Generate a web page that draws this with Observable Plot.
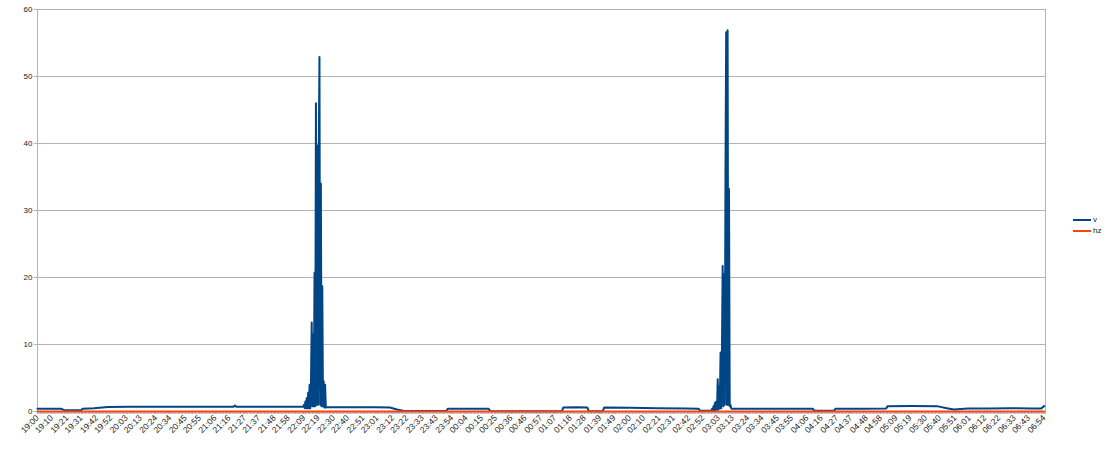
<!DOCTYPE html>
<html>
<head>
<meta charset="utf-8">
<script src="https://cdn.jsdelivr.net/npm/d3@7"></script>
<script src="https://cdn.jsdelivr.net/npm/@observablehq/plot@0.6"></script>
<style>
  html, body { margin: 0; padding: 0; background: #fff; }
  #wrap { position: relative; width: 1110px; height: 450px; font-family: "Liberation Sans", Arial, sans-serif; }
  .lg-line { position: absolute; width: 18px; height: 2px; }
  .lg-text { position: absolute; font-size: 8px; color: #222; line-height: 10px; }
</style>
</head>
<body>
<div id="wrap"></div>
<script>
// ---- data ----
const tickLabels = ["19:00","19:10","19:21","19:31","19:42","19:52","20:03","20:13","20:24","20:34","20:45","20:55",
  "21:06","21:16","21:27","21:37","21:48","21:58","22:09","22:19","22:30","22:40","22:51","23:01","23:12","23:22",
  "23:33","23:43","23:54","00:04","00:15","00:25","00:36","00:46","00:57","01:07","01:18","01:28","01:39","01:49",
  "02:00","02:10","02:21","02:31","02:42","02:52","03:03","03:13","03:24","03:34","03:45","03:55","04:06","04:16",
  "04:27","04:37","04:48","04:58","05:09","05:19","05:30","05:40","05:51","06:01","06:12","06:22","06:33","06:43","06:54"];

const yTicks = [0, 10, 20, 30, 40, 50, 60];

const baseTimes = ["19:00","19:06","19:12","19:17","19:19","19:25","19:31","19:32","19:40","19:50","20:05","20:30",
  "21:00","21:19","21:20","21:21","21:45","22:05","22:08",
  "22:25","22:40","23:00","23:10","23:15","23:20","23:35","23:50","23:51","00:05","00:20","00:21","00:45","01:12",
  "01:13","01:22","01:30","01:31","01:41","01:42","02:00","02:20","02:40","02:49","02:50","02:57",
  "03:13","03:30","03:50","04:10","04:11","04:25","04:26","04:45","05:02","05:03","05:20","05:38","05:45","05:50",
  "06:00","06:15","06:30","06:45","06:52","06:54"];
const baseValues = [0.4,0.42,0.4,0.4,0.2,0.18,0.2,0.4,0.5,0.68,0.7,0.7,
  0.7,0.7,0.9,0.7,0.7,0.7,0.7,
  0.65,0.65,0.65,0.6,0.3,0.08,0.06,0.06,0.4,0.42,0.4,0.06,0.05,0.05,
  0.6,0.62,0.6,0.05,0.05,0.6,0.55,0.5,0.45,0.4,0.1,0.1,
  0.4,0.42,0.4,0.4,0.1,0.1,0.4,0.42,0.45,0.8,0.82,0.8,0.5,0.3,
  0.45,0.45,0.5,0.45,0.45,0.8];

const spike1Times = ["22:08:30","22:09:00","22:09:30","22:10:00","22:10:30","22:11:00","22:11:30","22:12:00","22:12:30",
  "22:13:00","22:13:30","22:14:00","22:14:30","22:15:00","22:15:30","22:16:00","22:16:30","22:17:00","22:17:30",
  "22:18:00","22:18:30","22:19:00","22:19:30","22:20:00","22:20:30","22:21:00","22:21:30","22:22:00","22:22:30",
  "22:23:00","22:23:30","22:24:00","22:24:30"];
const spike1Values = [0.7,1.0,0.5,1.5,0.5,2.0,0.5,2.8,0.5,
  4.0,0.5,4.5,13.3,0.8,11.5,0.8,20.7,0.8,46.0,
  1.0,39.7,1.0,38.0,52.9,1.0,34.0,0.8,18.7,0.8,
  4.5,0.6,4.0,0.6];

const spike2Times = ["02:58:00","02:58:30","02:59:00","02:59:30","03:00:00","03:00:30","03:01:00","03:01:30","03:02:00",
  "03:02:30","03:03:00","03:03:30","03:04:00","03:04:30","03:05:00","03:05:30","03:06:00","03:06:30","03:07:00",
  "03:07:30","03:08:00","03:08:30","03:09:00","03:09:30","03:10:00","03:10:30","03:11:00","03:11:30","03:12:00","03:12:30"];
const spike2Values = [0.1,0.4,0.1,0.8,0.2,1.3,0.2,1.5,0.3,
  4.8,0.3,3.8,0.5,8.8,0.5,9.0,21.7,0.8,20.5,
  1.0,35.5,56.6,1.0,56.9,1.0,33.2,0.8,1.0,0.5,0.4];

const hzTimes = ["19:00","22:00","01:00","04:00","06:54"];
const hzValues = [0, 0, 0, 0, 0];

// ---- helpers ----
function toMin(s) {
  const p = s.split(":").map(Number);
  let m = p[0] * 60 + p[1] + (p[2] || 0) / 60 - 19 * 60;
  if (m < 0) m += 1440;
  return m;
}
const vData = []
  .concat(baseTimes.map((t, i) => ({t: toMin(t), v: baseValues[i]})))
  .concat(spike1Times.map((t, i) => ({t: toMin(t), v: spike1Values[i]})))
  .concat(spike2Times.map((t, i) => ({t: toMin(t), v: spike2Values[i]})))
  .sort((a, b) => a.t - b.t);
const hzData = hzTimes.map((t, i) => ({t: toMin(t), v: hzValues[i]}));

const labelPos = tickLabels.map(toMin);
const labelMap = new Map(labelPos.map((p, i) => [p, tickLabels[i]]));
const minorTicks = d3.range(0, 716, 1);

const grey = "#b3b3b3";
const chart = Plot.plot({
  width: 1110,
  height: 450,
  marginLeft: 37,
  marginRight: 65,
  marginTop: 9,
  marginBottom: 39,
  style: {fontFamily: "'Liberation Sans', Arial, sans-serif", color: "#222", background: "#fff"},
  x: {domain: [0, 715]},
  y: {domain: [0, 60]},
  marks: [
    Plot.gridY(yTicks, {stroke: grey, strokeOpacity: 1}),
    Plot.ruleX([0, 715], {stroke: grey}),
    Plot.axisY(yTicks, {tickSize: 3, tickPadding: 2, stroke: grey, fontSize: 8, label: null, fill: "#222"}),
    Plot.axisX(minorTicks, {tickSize: 3, stroke: grey, tickFormat: () => "", label: null}),
    Plot.axisX(labelPos, {tickSize: 3, tickPadding: 2, stroke: grey, tickRotate: -45, fontSize: 8.5,
      tickFormat: d => labelMap.get(d), label: null, fill: "#222"}),
    Plot.line(vData, {x: "t", y: "v", stroke: "#004586", strokeWidth: 2}),
    Plot.line(hzData, {x: "t", y: "v", stroke: "#ff420e", strokeWidth: 2})
  ]
});
const wrap = document.getElementById("wrap");
wrap.appendChild(chart);

// legend (right side)
const legend = [["v", "#004586", 219], ["hz", "#ff420e", 230]];
legend.forEach(([name, color, y]) => {
  const l = document.createElement("div");
  l.className = "lg-line";
  l.style.left = "1073px"; l.style.top = y + "px"; l.style.background = color;
  wrap.appendChild(l);
  const t = document.createElement("div");
  t.className = "lg-text";
  t.style.left = "1093px"; t.style.top = (y - 4) + "px";
  t.textContent = name;
  wrap.appendChild(t);
});
</script>
</body>
</html>
